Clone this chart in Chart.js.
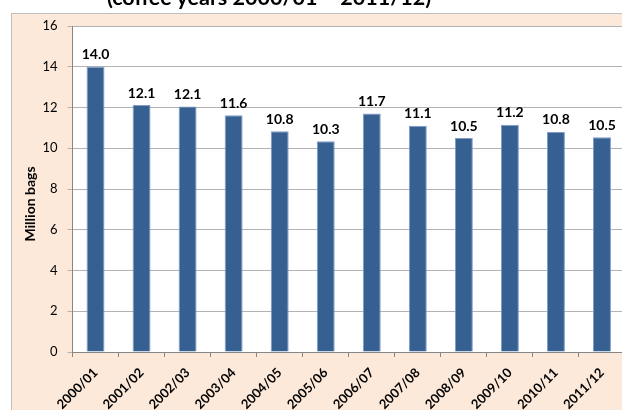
<!DOCTYPE html>
<html>
<head>
<meta charset="utf-8">
<script src="https://cdn.jsdelivr.net/npm/chart.js@4.4.0/dist/chart.umd.min.js"></script>
<style>
  html, body { margin: 0; padding: 0; width: 622px; height: 410px; overflow: hidden; background: #fff; }
  #wrap { position: absolute; left: 0; top: 0; width: 640px; height: 410px; }
  #title { position: absolute; left: 0; width: 538px; top: 0; text-align: center;
           font: bold 21.5px Lato, sans-serif; color: #000; white-space: nowrap; line-height: 21.5px;
           transform: translateY(-13px); z-index: 2; }
</style>
</head>
<body>
<div id="wrap"><canvas id="c" width="640" height="410"></canvas></div>
<div id="title">(coffee years 2000/01 – 2011/12)</div>
<script>
const categories = ["2000/01","2001/02","2002/03","2003/04","2004/05","2005/06","2006/07","2007/08","2008/09","2009/10","2010/11","2011/12"];
const values = [14.0, 12.12, 12.05, 11.62, 10.83, 10.34, 11.71, 11.11, 10.5, 11.15, 10.8, 10.54];
const yTicks = [0, 2, 4, 6, 8, 10, 12, 14, 16];
const yTitle = "Million bags";

const framePlugin = {
  id: 'frame',
  beforeDraw(chart) {
    const ctx = chart.ctx, a = chart.chartArea;
    ctx.save();
    ctx.fillStyle = '#FDE9D9';
    ctx.fillRect(11, 13, 700, 500);
    ctx.strokeStyle = '#BFBFBF';
    ctx.lineWidth = 1;
    ctx.strokeRect(11.5, 13.5, 700, 500);
    ctx.fillStyle = '#FFFFFF';
    ctx.fillRect(a.left, a.top, a.right - a.left, a.bottom - a.top);
    ctx.restore();
  },
  afterDraw(chart) {
    const ctx = chart.ctx;
    ctx.save();
    ctx.translate(30, 204);
    ctx.rotate(-Math.PI / 2);
    ctx.font = 'bold 14px Lato, sans-serif';
    ctx.fillStyle = '#000';
    ctx.textAlign = 'center';
    ctx.textBaseline = 'middle';
    ctx.fillText(yTitle, 0, 0);
    ctx.restore();
  }
};

const labelPlugin = {
  id: 'valueLabels',
  afterDatasetsDraw(chart) {
    const ctx = chart.ctx;
    const meta = chart.getDatasetMeta(0);
    ctx.save();
    ctx.font = 'bold 14px Lato, sans-serif';
    ctx.fillStyle = '#000';
    ctx.textAlign = 'center';
    ctx.textBaseline = 'alphabetic';
    meta.data.forEach((bar, i) => {
      ctx.fillText(values[i].toFixed(1), bar.x, bar.y - 7.5);
    });
    ctx.restore();
  }
};

new Chart(document.getElementById('c'), {
  type: 'bar',
  data: {
    labels: categories,
    datasets: [{
      data: values,
      backgroundColor: '#376092',
      borderColor: '#7E9CC6',
      borderWidth: 1,
      barPercentage: 0.39,
      categoryPercentage: 1.0
    }]
  },
  options: {
    responsive: false,
    animation: false,
    devicePixelRatio: 1,
    layout: { padding: { left: 0, top: 26, right: 15, bottom: 0 } },
    plugins: {
      legend: { display: false },
      tooltip: { enabled: false },
      title: { display: false }
    },
    scales: {
      x: {
        offset: true,
        grid: { display: true, drawOnChartArea: false, offset: true, tickLength: 5, color: '#868686' },
        border: { color: '#868686' },
        ticks: {
          minRotation: 45, maxRotation: 45, padding: 8, color: '#000',
          font: { family: 'Lato, sans-serif', size: 13, weight: 'bold' }
        },
        afterFit(s) { s.height = 58; }
      },
      y: {
        min: 0, max: 16,
        afterBuildTicks(s) { s.ticks = yTicks.map(v => ({ value: v })); },
        grid: { color: '#B3B3B3', tickLength: 5, drawTicks: true },
        border: { color: '#868686' },
        ticks: { padding: 10, color: '#000', font: { family: 'Lato, sans-serif', size: 13 } },
        title: { display: false },
        afterFit(s) { s.width = 72.5; }
      }
    }
  },
  plugins: [framePlugin, labelPlugin]
});
</script>
</body>
</html>
